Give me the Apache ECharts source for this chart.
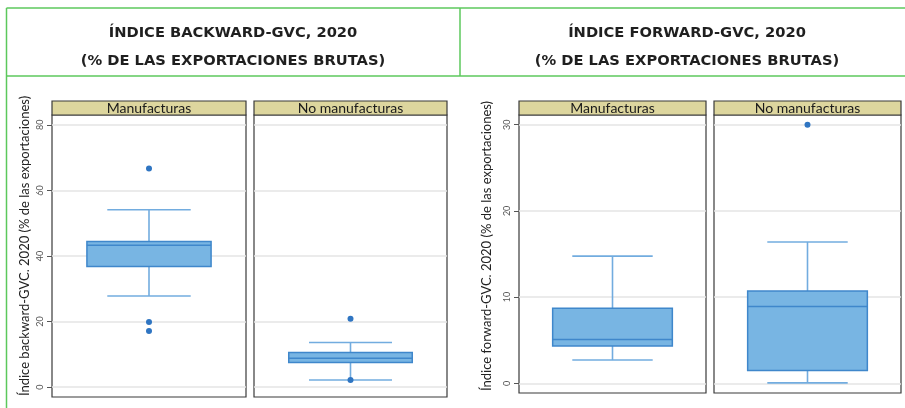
<!DOCTYPE html>
<html>
<head>
<meta charset="utf-8">
<script src="https://cdn.jsdelivr.net/npm/echarts@6/dist/echarts.min.js"></script>
<style>html,body{margin:0;padding:0;background:#fff;}#c{width:905px;height:408px;}</style>
</head>
<body>
<div id="c"></div>
<script>
// ---- data ----
const categories = ['Manufacturas', 'No manufacturas'];
// [low whisker, Q1, median, Q3, high whisker]
const backwardManuf = [27.8, 36.8, 43.3, 44.4, 54.1];
const backwardNoManuf = [2.2, 7.5, 8.8, 10.55, 13.6];
const backwardOutManuf = [66.7, 19.9, 17.1];
const backwardOutNoManuf = [20.9, 2.2];
const forwardManuf = [2.7, 4.33, 5.07, 8.7, 14.75];
const forwardNoManuf = [0.05, 1.5, 8.9, 10.7, 16.4];
const forwardOutManuf = [];
const forwardOutNoManuf = [30.0];
const backwardTicks = [0, 20, 40, 60, 80];
const forwardTicks = [0, 10, 20, 30];
const titles = ['ÍNDICE BACKWARD-GVC, 2020', 'ÍNDICE FORWARD-GVC, 2020', '(% DE LAS EXPORTACIONES BRUTAS)'];
const axisNames = ['Índice backward-GVC. 2020 (% de las exportaciones)', 'Índice forward-GVC. 2020 (% de las exportaciones)'];

// ---- layout ----
const grids = [
  {left: 52, top: 115, width: 194, height: 282},
  {left: 254, top: 115, width: 193, height: 282},
  {left: 519, top: 115, width: 187, height: 278},
  {left: 714, top: 115, width: 187, height: 278}
];
const panels = [
  {cat: categories[0], box: backwardManuf, out: backwardOutManuf, ticks: backwardTicks, min: -3, max: 83, first: true},
  {cat: categories[1], box: backwardNoManuf, out: backwardOutNoManuf, ticks: backwardTicks, min: -3, max: 83, first: false},
  {cat: categories[0], box: forwardManuf, out: forwardOutManuf, ticks: forwardTicks, min: -1.12, max: 31.12, first: true},
  {cat: categories[1], box: forwardNoManuf, out: forwardOutNoManuf, ticks: forwardTicks, min: -1.12, max: 31.12, first: false}
];

const BOX_FILL = '#78b5e3';
const BOX_STROKE = '#3f87cb';
const WHISK = '#72acdf';
const DOT = '#2f75c2';
const GREEN = '#5cc85c';

function renderBox(params, api) {
  const x = api.value(0);
  const low = api.coord([x, api.value(1)]);
  const q1 = api.coord([x, api.value(2)]);
  const med = api.coord([x, api.value(3)]);
  const q3 = api.coord([x, api.value(4)]);
  const high = api.coord([x, api.value(5)]);
  const band = api.size([1, 0])[0];
  const bw = band * 0.64, cw = band * 0.43;
  const cx = low[0];
  const wStyle = {stroke: WHISK, lineWidth: 1.6};
  return {
    type: 'group',
    children: [
      {type: 'line', shape: {x1: cx, y1: high[1], x2: cx, y2: q3[1]}, style: wStyle},
      {type: 'line', shape: {x1: cx, y1: q1[1], x2: cx, y2: low[1]}, style: wStyle},
      {type: 'line', shape: {x1: cx - cw / 2, y1: high[1], x2: cx + cw / 2, y2: high[1]}, style: wStyle},
      {type: 'line', shape: {x1: cx - cw / 2, y1: low[1], x2: cx + cw / 2, y2: low[1]}, style: wStyle},
      {type: 'rect', shape: {x: cx - bw / 2, y: q3[1], width: bw, height: q1[1] - q3[1]},
        style: {fill: BOX_FILL, stroke: BOX_STROKE, lineWidth: 1.5}},
      {type: 'line', shape: {x1: cx - bw / 2, y1: med[1], x2: cx + bw / 2, y2: med[1]},
        style: {stroke: BOX_STROKE, lineWidth: 1.5}}
    ]
  };
}

const xAxis = [], yAxis = [], series = [], graphic = [];
panels.forEach((p, i) => {
  xAxis.push({type: 'category', gridIndex: i, data: [p.cat], show: false, boundaryGap: true});
  yAxis.push({
    type: 'value', gridIndex: i, min: p.min, max: p.max,
    axisLine: {show: false},
    axisTick: {show: p.first, length: 5, customValues: p.ticks, lineStyle: {color: '#555', width: 1}},
    axisLabel: {show: p.first, customValues: p.ticks, rotate: 90, margin: 7, fontSize: 9,
      color: '#555', fontFamily: 'Lato'},
    splitLine: {show: true, lineStyle: {color: '#e4e4e4', width: 1.5}}
  });
  series.push({
    type: 'custom', xAxisIndex: i, yAxisIndex: i, renderItem: renderBox,
    encode: {x: 0, y: [1, 2, 3, 4, 5]},
    data: [[0].concat(p.box)], z: 2
  });
  series.push({
    type: 'scatter', xAxisIndex: i, yAxisIndex: i, symbolSize: 6,
    itemStyle: {color: DOT, opacity: 1},
    data: p.out.map(v => [0, v]), z: 3
  });
  const g = grids[i];
  graphic.push({type: 'rect', shape: {x: g.left, y: 101, width: g.width, height: 14},
    style: {fill: '#ddd69e', stroke: '#3a3a3a', lineWidth: 1.2}, z: 10});
  graphic.push({type: 'text', x: g.left + g.width / 2, y: 108.5,
    style: {text: p.cat, fill: '#1a1a1a', font: '14px Lato', align: 'center', verticalAlign: 'middle'}, z: 11});
});

// frame lines
[[6.5, 8, 905, 8], [6.5, 76, 905, 76], [6.5, 8, 6.5, 408], [460, 8, 460, 76]].forEach(l => {
  graphic.push({type: 'line', shape: {x1: l[0], y1: l[1], x2: l[2], y2: l[3]},
    style: {stroke: GREEN, lineWidth: 1.5}, z: 10});
});
// titles
const tFont = 'bold 14.7px "DejaVu Sans"';
graphic.push({type: 'text', x: 233, y: 33, style: {text: titles[0], font: tFont, fill: '#1f1f1f', align: 'center', verticalAlign: 'middle'}});
graphic.push({type: 'text', x: 233, y: 61, style: {text: titles[2], font: tFont, fill: '#1f1f1f', align: 'center', verticalAlign: 'middle'}});
graphic.push({type: 'text', x: 687, y: 33, style: {text: titles[1], font: tFont, fill: '#1f1f1f', align: 'center', verticalAlign: 'middle'}});
graphic.push({type: 'text', x: 687, y: 61, style: {text: titles[2], font: tFont, fill: '#1f1f1f', align: 'center', verticalAlign: 'middle'}});
// axis names
graphic.push({type: 'text', x: 25, y: 246, rotation: Math.PI / 2,
  style: {text: axisNames[0], font: '13px Lato', fill: '#222', align: 'center', verticalAlign: 'middle'}});
graphic.push({type: 'text', x: 487, y: 246, rotation: Math.PI / 2,
  style: {text: axisNames[1], font: '13px Lato', fill: '#222', align: 'center', verticalAlign: 'middle'}});

const chart = echarts.init(document.getElementById('c'), null, {renderer: 'canvas'});
chart.setOption({
  animation: false,
  backgroundColor: '#fff',
  grid: grids.map(g => Object.assign({show: true, borderColor: '#3a3a3a', borderWidth: 1.2, backgroundColor: 'transparent'}, g)),
  xAxis: xAxis,
  yAxis: yAxis,
  series: series,
  graphic: graphic
});
</script>
</body>
</html>
